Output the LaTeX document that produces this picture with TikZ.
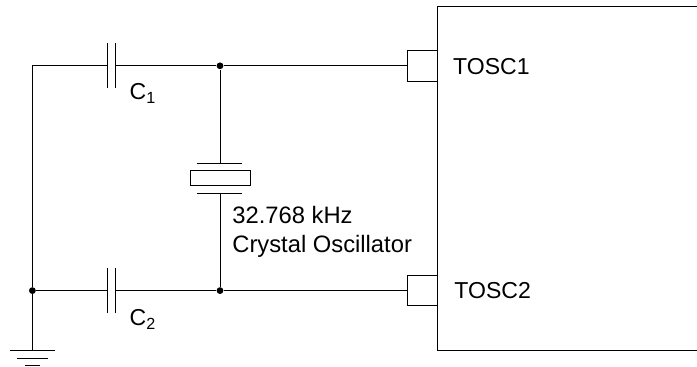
\documentclass[tikz,border=0pt]{standalone}
\usepackage{fontspec}
\setmainfont{Liberation Sans}
\usepackage{xcolor}
\usetikzlibrary{positioning}
\tikzset{every picture/.style={line width=0.6pt}}
\tikzset{junction/.style={circle,fill=black,draw=none,inner sep=0pt,minimum size=0.17cm}}
\tikzset{pinbox/.style={rectangle,draw,inner sep=0pt,minimum size=0.76cm}}
\tikzset{label text/.style={inner sep=0pt,anchor=base west,font=\fontsize{16.4}{20.6}\selectfont}}

\begin{document}
\begin{tikzpicture}
\useasboundingbox (0,0) rectangle (17.425,9.175);
%
\node[junction] (j1) at (5.5,7.53) {};
\node[junction] (j2) at (5.5,1.91) {};
\node[junction] (j3) at (0.81,1.91) {};
\coordinate (corner) at (0.81,7.53);
\node[pinbox] (pin1) at (10.56,7.53) {};
\node[pinbox] (pin2) at (10.56,1.91) {};
%
% capacitors
\coordinate (c1a) at (2.6875,7.53);
\coordinate (c1b) at (2.875,7.53);
\coordinate (c2a) at (2.6875,1.91);
\coordinate (c2b) at (2.875,1.91);
\draw (c1a) ++(0,0.56) -- ++(0,-1.12);
\draw (c1b) ++(0,0.56) -- ++(0,-1.12);
\draw (c2a) ++(0,0.56) -- ++(0,-1.12);
\draw (c2b) ++(0,0.56) -- ++(0,-1.12);
%
% crystal
\node[rectangle,draw,inner sep=0pt,minimum width=1.5cm,minimum height=0.375cm] (xtal) at (5.5,4.725) {};
\coordinate (x1) at (5.5,5.1);
\coordinate (x2) at (5.5,4.35);
\draw (4.925,5.1) -- (6.05,5.1);
\draw (4.925,4.35) -- (6.05,4.35);
%
% wires
\draw (j3) -- (corner) -- (c1a);
\draw (c1b) -- (j1);
\draw (j1) -- (pin1);
\draw (j1) -- (x1);
\draw (x2) -- (j2);
\draw (j3) -- (c2a);
\draw (c2b) -- (j2);
\draw (j2) -- (pin2);
%
% ground
\coordinate (gnd) at (0.81,0.41);
\draw (j3) -- (gnd);
\draw (0.25,0.41) -- (1.375,0.41);
\draw (0.43,0.225) -- (1.19,0.225);
\draw (0.625,0.04) -- (1.0,0.04);
%
% chip
\coordinate (chip1) at (17.425,9.025);
\coordinate (chip2) at (10.94,9.025);
\coordinate (chip3) at (10.94,0.41);
\coordinate (chip4) at (17.425,0.41);
\draw (chip1) -- (chip2) -- (chip3) -- (chip4);
%
\node[label text] (c1label) at (3.23,6.69) {C\textsubscript{1}};
\node[label text] (c2label) at (3.23,1.03) {C\textsubscript{2}};
\node[label text] (tosc1) at (11.32,7.3) {TOSC1};
\node[label text] (tosc2) at (11.35,1.7) {TOSC2};
\node[label text,align=left,anchor=north west,font=\fontsize{16.9}{20.6}\selectfont] (xlabel) at (5.8,4.03) {32.768 kHz\\Crystal Oscillator};
\end{tikzpicture}
\end{document}
